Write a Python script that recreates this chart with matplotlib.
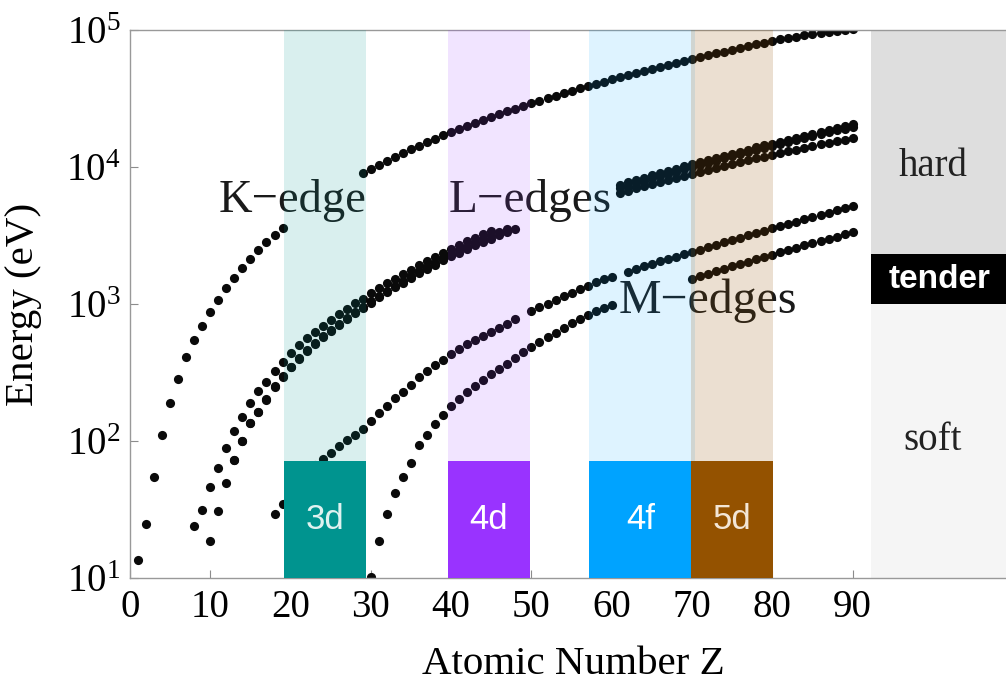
import numpy as np
import matplotlib.pyplot as plt
from matplotlib.ticker import NullLocator

plt.rcParams['font.family'] = 'Liberation Serif'
plt.rcParams['mathtext.fontset'] = 'custom'
plt.rcParams['mathtext.rm'] = 'Liberation Serif'
plt.rcParams['mathtext.it'] = 'Liberation Serif:italic'
plt.rcParams['mathtext.bf'] = 'Liberation Serif:bold'

# absorption edge energies (eV) vs atomic number
k_z = list(range(1, 20)) + list(range(29, 91))
k_e = [13.6, 24.6, 54.7, 111.5, 188, 284.2, 409.9, 543.1, 696.7, 870.2, 1070.8,
       1303, 1559.6, 1839, 2145.5, 2472, 2822.4, 3205.9, 3608.4,
       8979, 9659, 10367, 11103, 11867, 12658, 13474, 14326, 15200, 16105,
       17038, 17998, 18986, 20000, 21044, 22117, 23220, 24350, 25514, 26711,
       27940, 29200, 30491, 31814, 33169, 34561, 35985, 37441, 38925, 40443,
       41991, 43569, 45184, 46834, 48519, 50239, 51996, 53789, 55618, 57486,
       59390, 61332, 63314, 65351, 67416, 69525, 71676, 73871, 76111, 78395,
       80725, 83102, 85300, 87400, 89400, 91400, 93300, 95200, 97000, 98700,
       100300, 101900]

l1_z = list(range(8, 46)) + list(range(61, 91))
l1_e = [24, 31.5, 46, 63.5, 88.7, 117.8, 149.7, 189, 230.9, 270, 326.3, 378.6,
        438.4, 498, 560.9, 626.7, 696, 769.1, 844.6, 925.1, 1008.6, 1096.7,
        1196.2, 1299, 1414.6, 1527, 1652, 1782, 1921, 2065, 2216, 2373, 2532,
        2698, 2866, 3043, 3224, 3412,
        7428, 7737, 8052, 8376, 8708, 9046, 9394, 9751, 10116, 10486, 10870,
        11271, 11682, 12100, 12527, 12968, 13419, 13880, 14353, 14839, 15347,
        15861, 16388, 16939, 17493, 18049, 18639, 19237, 19840, 20472]

l2_z = list(range(10, 48)) + list(range(61, 91))
l2_e = [18.5, 30.65, 49.78, 72.95, 99.82, 136, 163.6, 202, 250.6, 297.3, 349.7,
        403.6, 460.2, 519.8, 583.8, 649.9, 719.9, 793.2, 870, 952.3, 1044.9,
        1143.2, 1248.1, 1359.1, 1474.3, 1596, 1730.9, 1864, 2007, 2156, 2307,
        2465, 2625, 2793, 2967, 3146, 3330, 3524,
        7013, 7312, 7617, 7930, 8252, 8581, 8918, 9264, 9617, 9978, 10349,
        10739, 11136, 11544, 11959, 12385, 12824, 13273, 13734, 14209, 14698,
        15200, 15711, 16244, 16785, 17337, 17907, 18484, 19083, 19693]

l3_z = list(range(13, 49)) + list(range(61, 91))
l3_e = [72.55, 99.42, 135, 162.5, 200, 248.4, 294.6, 346.2, 398.7, 453.8, 512.1,
        574.1, 638.7, 706.8, 778.1, 852.7, 932.7, 1021.8, 1116.4, 1217, 1323.6,
        1433.9, 1550, 1678.4, 1804, 1940, 2080, 2223, 2371, 2520, 2677, 2838,
        3004, 3173, 3351, 3538,
        6459, 6716, 6977, 7243, 7514, 7790, 8071, 8358, 8648, 8944, 9244, 9561,
        9881, 10207, 10535, 10871, 11215, 11564, 11919, 12284, 12658, 13035,
        13419, 13814, 14214, 14619, 15031, 15444, 15871, 16300]

m1_z = list(range(18, 49)) + list(range(50, 61)) + list(range(62, 91))
m1_e = [29.3, 34.8, 44.3, 51.1, 58.7, 66.3, 74.1, 82.3, 91.3, 101, 110.8, 122.5,
        139.8, 159.5, 180.1, 204.7, 229.6, 257, 292.8, 326.7, 358.7, 392, 430.3,
        466.6, 506.3, 544, 586.1, 628.1, 671.6, 719, 772,
        884.7, 946, 1006, 1072, 1148.7, 1211, 1293, 1362, 1436, 1511, 1575,
        1723, 1800, 1881, 1968, 2047, 2128, 2207, 2307, 2398, 2491, 2601, 2708,
        2820, 2932, 3049, 3174, 3296, 3425, 3562, 3704, 3851, 3999, 4149, 4317,
        4482, 4652, 4822, 5002, 5182]

m5_z = list(range(30, 61)) + list(range(70, 91))
m5_e = [10.1, 18.7, 29.2, 41.7, 54.6, 69, 93.8, 110.5, 133, 155.8, 178.8, 202.3,
        227.9, 253.9, 279.9, 307.2, 335.2, 367, 403.7, 443.9, 484.9, 528.2, 572.1,
        619.3, 669.9, 726.6, 780.5, 836, 883.8, 928.8, 980.4,
        1527.8, 1588.5, 1661.7, 1735.1, 1809, 1883, 1960, 2040, 2122, 2206, 2295,
        2389, 2484, 2580, 2683, 2787, 2892, 3000, 3105, 3219, 3332]

# d/f-block bands
band_names = ['3d', '4d', '4f', '5d']
band_start = [19.2, 39.6, 57.2, 69.9]
band_end = [29.4, 49.8, 70.4, 80.1]
band_colors = ['#00948f', '#9933ff', '#00a3ff', '#945200']
band_text = ['#dff2f0', 'white', 'white', '#f3e6d6']
band_alpha = [0.15, 0.13, 0.13, 0.18]

fig = plt.figure(figsize=(10.06, 6.85), dpi=100)
ax = fig.add_axes([130 / 1006, 1 - 578 / 685, 1 - 130 / 1006, 548 / 685])

for z, e in [(k_z, k_e), (l1_z, l1_e), (l2_z, l2_e), (l3_z, l3_e),
             (m1_z, m1_e), (m5_z, m5_e)]:
    ax.plot(z, e, 'o', color='#0a0a0a', ms=6.6, mec='none', zorder=2)

ax.set_yscale('log')
ax.set_ylim(10, 1e5)
ax.set_xlim(0, 109.1)

ax.text(20.2, 4700, 'K\u2212edge', ha='center', va='baseline', fontsize=33.5,
        color='#1a1a1a', zorder=2.5)
ax.text(49.9, 4700, 'L\u2212edges', ha='center', va='baseline', fontsize=34,
        color='#1a1a1a', zorder=2.5)
ax.text(72.0, 860, 'M\u2212edges', ha='center', va='baseline', fontsize=34.5,
        color='#1a1a1a', zorder=2.5)

box_top = 71
for i in range(4):
    x0, x1 = band_start[i], band_end[i]
    ax.axvspan(x0, x1, color=band_colors[i], alpha=band_alpha[i], lw=0, zorder=3)
for i in range(4):
    x0, x1 = band_start[i], min(band_end[i], band_start[i + 1] if i < 3 else 99)
    ax.fill_between([x0, x1], 10, box_top, color=band_colors[i], lw=0, zorder=4)
    ax.text((x0 + x1) / 2, np.sqrt(10 * box_top), band_names[i], ha='center',
            va='center', color=band_text[i], fontsize=25, family='Liberation Sans',
            zorder=5)

# x-ray energy ranges
rx0, rx1 = 92.3, 109.1
ax.fill_between([rx0, rx1], 2300, 1e5, color='#dedede', lw=0, zorder=1)
ax.fill_between([rx0, rx1], 1000, 2300, color='black', lw=0, zorder=1)
ax.fill_between([rx0, rx1], 10, 1000, color='#f5f5f5', lw=0, zorder=1)
ax.text(100, 1e4, 'hard', ha='center', va='center', fontsize=28, color='#222222')
ax.text(100.8, 1517, 'tender', ha='center', va='center', fontsize=24,
        family='Liberation Sans', weight='bold', color='white')
ax.text(100, 100, 'soft', ha='center', va='center', fontsize=28, color='#222222')

ax.set_xticks(range(0, 91, 10))
ax.yaxis.set_minor_locator(NullLocator())
ax.tick_params(direction='in', length=6, width=0.8, color='#8c8c8c', labelsize=28)
ax.tick_params(axis='x', pad=8)
ax.tick_params(axis='y', pad=7)
for s in ['left', 'bottom', 'top']:
    ax.spines[s].set_color('#999999')
    ax.spines[s].set_linewidth(1.0)
ax.spines['right'].set_visible(False)

ax.set_xlabel('Atomic Number Z', fontsize=29.5)
ax.set_ylabel('Energy (eV)', fontsize=29.5)
ax.xaxis.set_label_coords(0.506, -0.125)
ax.yaxis.set_label_coords(-0.1, 0.5)

fig.savefig('out.png', dpi=100)
